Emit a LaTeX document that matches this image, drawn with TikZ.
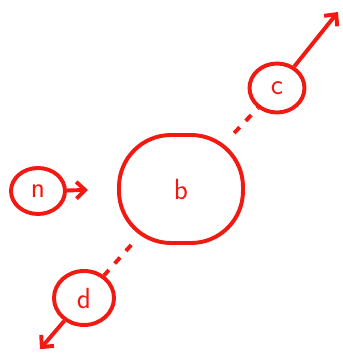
\documentclass[tikz,border=0pt]{standalone}
\usepackage{tikz}
\usetikzlibrary{arrows.meta,positioning,shapes.geometric}
\definecolor{penred}{HTML}{F01A12}

\begin{document}
\begin{tikzpicture}[>={Straight Barb[length=2.2mm,width=4.2mm]}, line width=2.8pt, draw=penred,
  dot/.style={draw=penred, ellipse, inner sep=0pt, font=\huge\sffamily, text=penred},
  blob/.style={draw=penred, rounded corners=1.3cm, minimum width=3.1cm, minimum height=2.7cm, font=\huge\sffamily, text=penred},
  link/.style={draw=penred, dash pattern=on 0.2cm off 0.22cm}]
\useasboundingbox (0,0) rectangle (8.575,8.85);
\node[dot, minimum width=1.35cm, minimum height=1.15cm] (n) at (0.95,4.075) {n};
\node[blob] (b) at (4.525,4.125) {b};
\node[dot, minimum width=1.375cm, minimum height=1.225cm] (c) at (6.925,6.65) {c};
\node[dot, minimum width=1.5cm, minimum height=1.35cm] (d) at (2.1,1.4) {d};
\coordinate (nb) at (2.2,4.1);
\coordinate (cend) at (8.45,8.55);
\coordinate (dend) at (1.0,0.12);
\draw[->, penred] (n) -- (nb);
\draw[link] (b) -- (c);
\draw[link] (b) -- (d);
\draw[->, penred] (c) -- (cend);
\draw[->, penred] (d) -- (dend);
\end{tikzpicture}
\end{document}
